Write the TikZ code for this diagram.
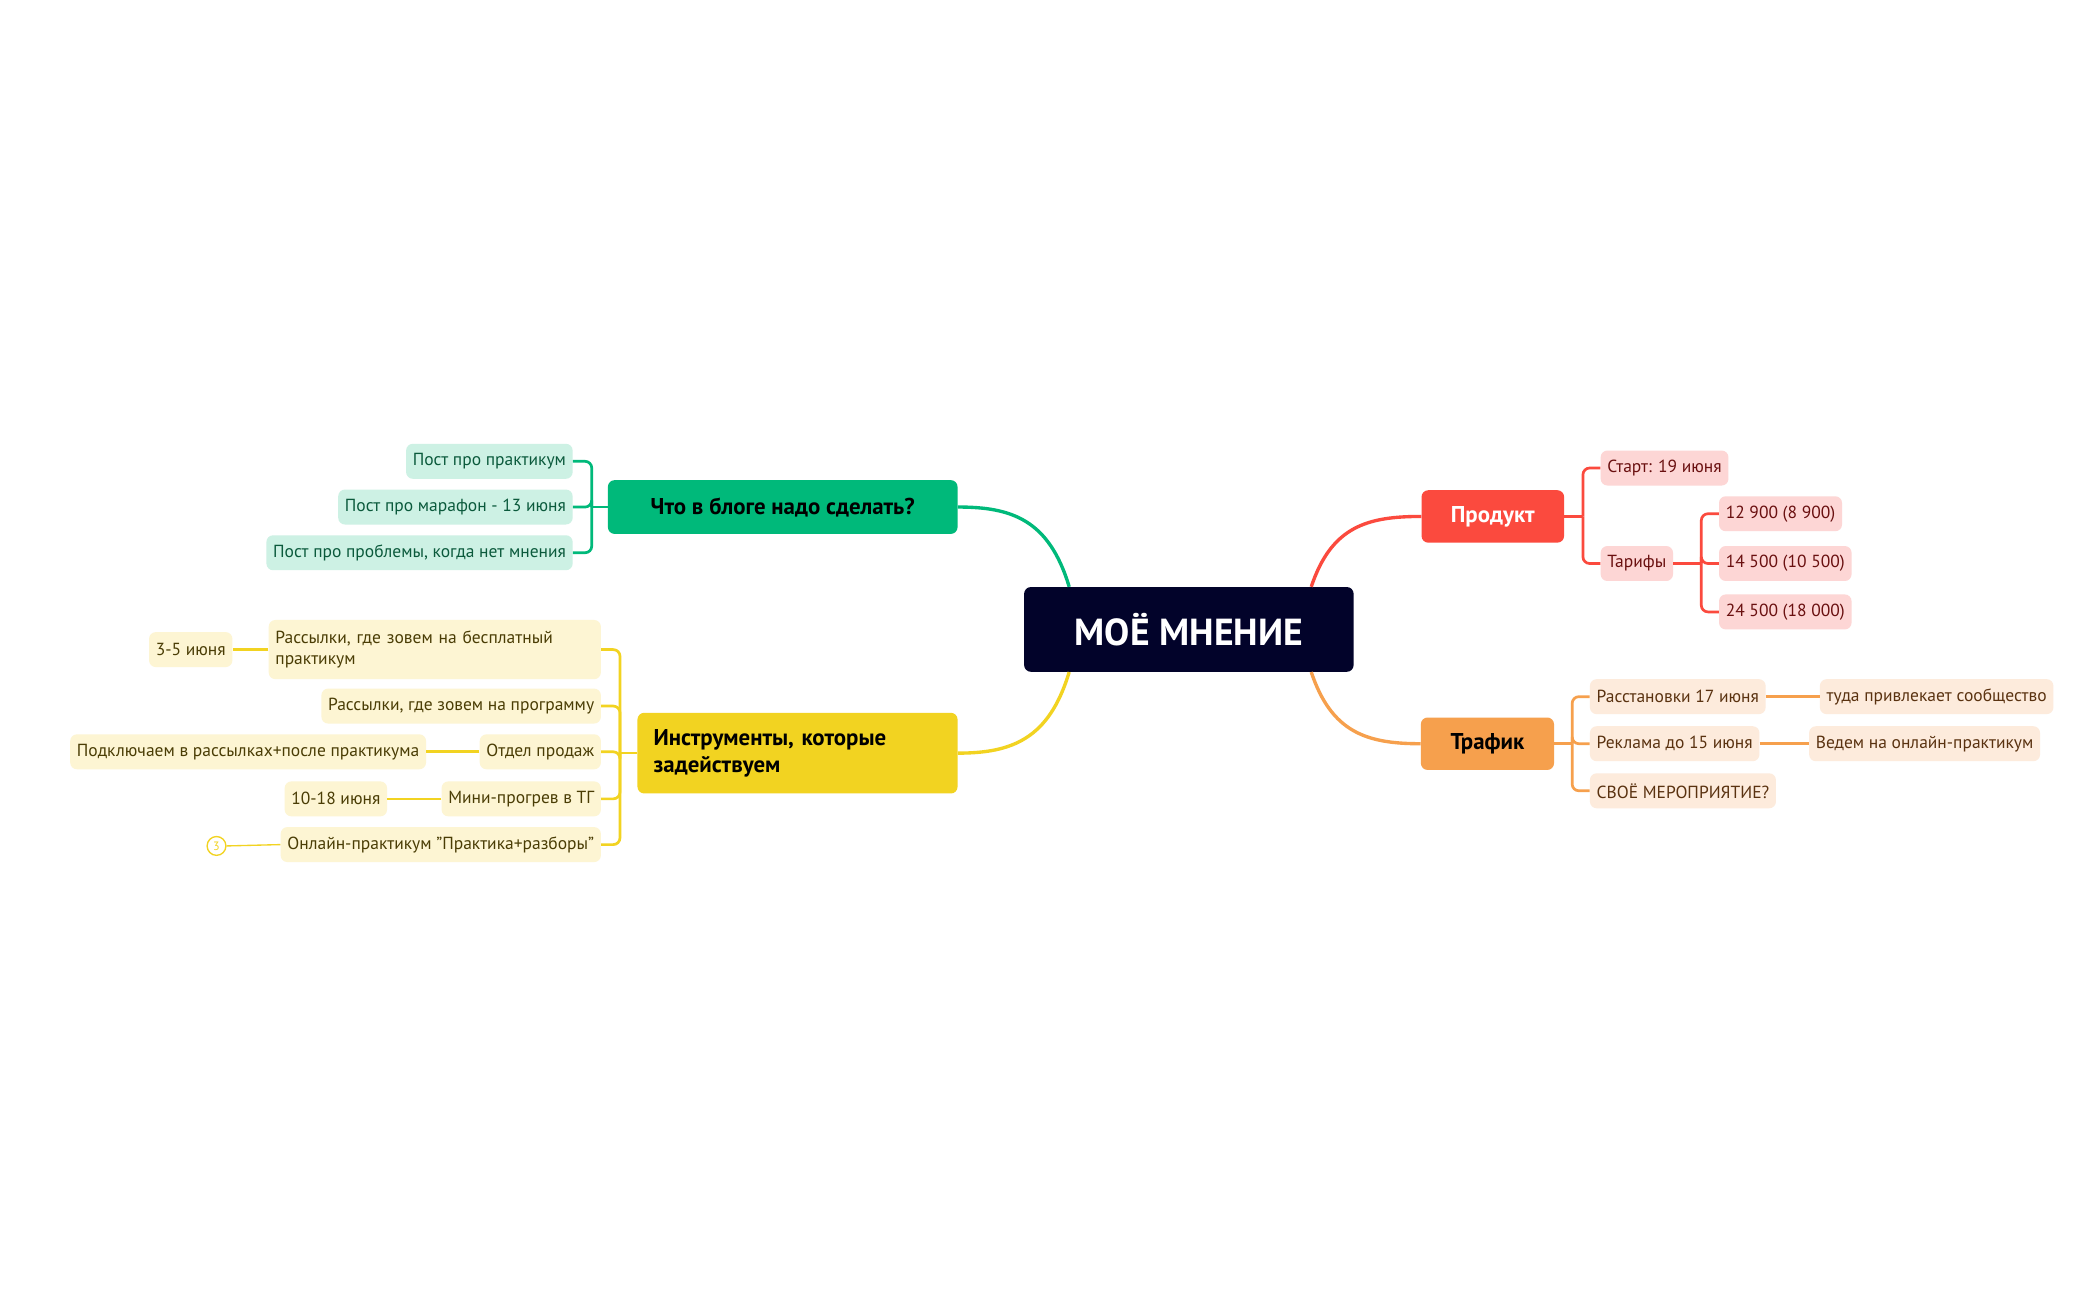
\documentclass[tikz,border=0pt]{standalone}
\usepackage{fontspec}
\setmainfont{PT Sans}
\begin{document}
\begin{tikzpicture}[x=1pt,y=-1pt,
  leaf/.style={rounded corners=5pt,inner xsep=5pt,minimum height=26pt,font=\fontsize{13}{15}\selectfont},
  gleaf/.style={leaf,fill=gfill,text=gtext},
  yleaf/.style={leaf,fill=yfill,text=ytext},
  rleaf/.style={leaf,fill=rfill,text=rtext},
  oleaf/.style={leaf,fill=ofill,text=otext},
  main/.style={rounded corners=5pt,inner xsep=12pt,font=\fontsize{17}{20}\selectfont\bfseries},
  gl/.style={draw=gmain,line width=2pt,rounded corners=5pt},
  yl/.style={draw=ymain,line width=2pt,rounded corners=5pt},
  rl/.style={draw=rmain,line width=2pt,rounded corners=5pt},
  ol/.style={draw=omain,line width=2pt,rounded corners=5pt}]
\definecolor{navy}{HTML}{02032A}
\definecolor{gmain}{HTML}{00B97A}\definecolor{gfill}{HTML}{CDF1E4}\definecolor{gtext}{HTML}{0B5A3C}
\definecolor{ymain}{HTML}{F2D321}\definecolor{yfill}{HTML}{FDF5D3}\definecolor{ytext}{HTML}{4A3D05}
\definecolor{rmain}{HTML}{FB4A3E}\definecolor{rfill}{HTML}{FDD6D5}\definecolor{rtext}{HTML}{6A1010}
\definecolor{omain}{HTML}{F6A04D}\definecolor{ofill}{HTML}{FDEBDC}\definecolor{otext}{HTML}{5A3210}
\useasboundingbox[fill=white] (0,0) rectangle (1560,967);
% central
\node[fill=navy,rounded corners=5pt,minimum width=245pt,minimum height=63pt,text=white,font=\fontsize{28}{32}\selectfont\bfseries] (c) at (884,468) {МОЁ МНЕНИЕ};
% green
\node[main,fill=gmain,minimum width=260pt,minimum height=40pt] (g) at (582,377) {Что в блоге надо сделать?};
\node[gleaf,anchor=east] (g1) at (426,343) {Пост про практикум};
\node[gleaf,anchor=east] (g2) at (426,377) {Пост про марафон - 13 июня};
\node[gleaf,anchor=east] (g3) at (426,411) {Пост про проблемы, когда нет мнения};
\coordinate (gb) at (440,377);
\draw[gl] (g.west) -- (gb);
\foreach \n in {g1,g2,g3} \draw[gl] (gb) |- (\n.east);
% yellow
\node[main,fill=ymain,minimum width=238pt,minimum height=60pt,align=left,text width=214pt] (y) at (593,560) {Инструменты, которые\\задействуем};
\node[yleaf,anchor=east,align=left,text width=237pt,minimum height=44pt,font=\fontsize{13}{16}\selectfont] (y1) at (447,483) {Рассылки, где зовем на бесплатный\\практикум};
\node[yleaf,anchor=east] (y2) at (447,525) {Рассылки, где зовем на программу};
\node[yleaf,anchor=east] (y3) at (447,559) {Отдел продаж};
\node[yleaf,anchor=east] (y4) at (447,594) {Мини-прогрев в ТГ};
\node[yleaf,anchor=east] (y5) at (447,628) {Онлайн-практикум "Практика+разборы"};
\node[yleaf,anchor=east] (y1a) at (173,483) {3-5 июня};
\node[yleaf,anchor=east] (y3a) at (317,559) {Подключаем в рассылках+после практикума};
\node[yleaf,anchor=east] (y4a) at (288,594) {10-18 июня};
\node[circle,draw=ymain,line width=1pt,inner sep=0pt,minimum size=14pt,text=ymain,font=\fontsize{9}{10}\selectfont] (n3) at (161,629) {3};
\coordinate (yb) at (461,560);
\draw[yl] (y.west) -- (yb);
\foreach \n in {y1,y2,y3,y4,y5} \draw[yl] (yb) |- (\n.east);
\draw[yl] (y1.west) -- (y1a.east);
\draw[yl] (y3.west) -- (y3a.east);
\draw[yl] (y4.west) -- (y4a.east);
\draw[ymain,line width=1pt] (n3.east) -- (y5.west);
% red
\node[main,fill=rmain,text=white,minimum width=106pt,minimum height=39pt] (r) at (1110,384) {Продукт};
\node[rleaf,anchor=west] (r1) at (1190,348) {Старт: 19 июня};
\node[rleaf,anchor=west] (r2) at (1190,419) {Тарифы};
\node[rleaf,anchor=west] (t1) at (1278,382) {12 900 (8 900)};
\node[rleaf,anchor=west] (t2) at (1278,419) {14 500 (10 500)};
\node[rleaf,anchor=west] (t3) at (1278,455) {24 500 (18 000)};
\coordinate (rb) at (1177,384);
\draw[rl] (r.east) -- (rb);
\foreach \n in {r1,r2} \draw[rl] (rb) |- (\n.west);
\coordinate (tb) at (1265,419);
\draw[rl] (r2.east) -- (tb);
\foreach \n in {t1,t2,t3} \draw[rl] (tb) |- (\n.west);
% orange
\node[main,fill=omain,minimum width=99pt,minimum height=39pt] (o) at (1106,553) {Трафик};
\node[oleaf,anchor=west] (o1) at (1182,518) {Расстановки 17 июня};
\node[oleaf,anchor=west] (o2) at (1182,553) {Реклама до 15 июня};
\node[oleaf,anchor=west] (o3) at (1182,588) {СВОЁ МЕРОПРИЯТИЕ?};
\node[oleaf,anchor=west] (o1a) at (1353,518) {туда привлекает сообщество};
\node[oleaf,anchor=west] (o2a) at (1345,553) {Ведем на онлайн-практикум};
\coordinate (ob) at (1169,553);
\draw[ol] (o.east) -- (ob);
\foreach \n in {o1,o2,o3} \draw[ol] (ob) |- (\n.west);
\draw[ol] (o1.east) -- (o1a.west);
\draw[ol] (o2.east) -- (o2a.west);
% main connectors
\draw[gmain,line width=2.5pt] ([xshift=-89pt]c.north) .. controls +(-15,-50) and +(40,0) .. (g.east);
\draw[ymain,line width=2.5pt] ([xshift=-89pt]c.south) .. controls +(-15,50) and +(40,0) .. (y.east);
\draw[rmain,line width=2.5pt] ([xshift=91pt]c.north) .. controls +(15,-45) and +(-40,0) .. (r.west);
\draw[omain,line width=2.5pt] ([xshift=91pt]c.south) .. controls +(15,45) and +(-40,0) .. (o.west);
\end{tikzpicture}
\end{document}
